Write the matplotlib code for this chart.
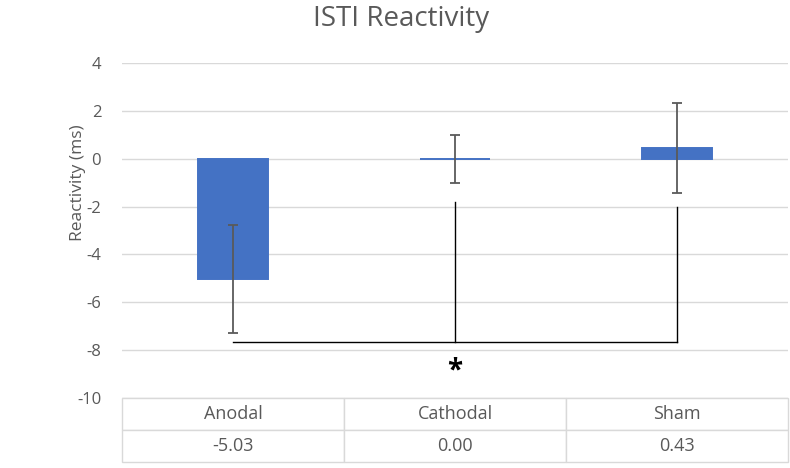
import matplotlib.pyplot as plt
import numpy as np

plt.rcParams['font.family'] = ['Open Sans', 'DejaVu Sans']
plt.rcParams['axes.unicode_minus'] = False

conditions = ["Anodal", "Cathodal", "Sham"]
reactivity = [-5.03, 0.00, 0.43]
errors = [2.27, 1.00, 1.88]
table_labels = ["-5.03", "0.00", "0.43"]

# significance bracket (Anodal vs Cathodal/Sham)
bracket_level = -7.68
bracket_tops = [None, -1.82, -2.0]
star_level = -8.85

bar_color = "#4472C4"
grey_text = "#595959"
grid_color = "#d9d9d9"

fig = plt.figure(figsize=(7.9, 4.68), dpi=100)
ax = fig.add_axes([0.1544, 0.1496, 0.8431, 0.7158])

x = np.arange(len(conditions))
ax.bar(x, reactivity, width=0.315, color=bar_color, edgecolor=bar_color,
       linewidth=1.4, zorder=2)
ax.errorbar(x, reactivity, yerr=errors, fmt="none", ecolor="#5a5a5a",
            elinewidth=1.3, capsize=3.8, capthick=1.3, zorder=3)

# bracket
ax.plot([x[0], x[2]], [bracket_level, bracket_level], color="black", lw=1.0, zorder=4)
for xi, top in zip(x, bracket_tops):
    if top is not None:
        ax.plot([xi, xi], [top, bracket_level], color="black", lw=1.0, zorder=4)
ax.text(x[1], star_level, "*", ha="center", va="center", fontsize=20,
        fontweight="bold", color="black")

ax.set_xlim(-0.5, 2.5)
ax.set_ylim(-10, 4)
ax.set_yticks(np.arange(-10, 5, 2))
ax.yaxis.grid(True, color=grid_color, lw=1.0, zorder=0)
ax.set_axisbelow(True)
ax.set_xticks([])
for s in ax.spines.values():
    s.set_visible(False)
ax.tick_params(axis="y", length=0, pad=15, labelsize=12, labelcolor=grey_text)
ax.set_ylabel("Reactivity (ms)", fontsize=12.5, color=grey_text)
ax.yaxis.set_label_coords(-0.054, 0.642)

fig.text(401 / 790, 1 - 19 / 468, "ISTI Reactivity", ha="center", va="center",
         fontsize=20, color=grey_text)

tbl = ax.table(cellText=[conditions, table_labels], cellLoc="center",
               bbox=[0, -0.191, 1, 0.191])
tbl.auto_set_font_size(False)
for (r, c), cell in tbl.get_celld().items():
    cell.set_edgecolor(grid_color)
    cell.set_linewidth(1.0)
    cell.get_text().set_fontsize(13)
    cell.get_text().set_color(grey_text)

fig.savefig("out.png", dpi=100)
